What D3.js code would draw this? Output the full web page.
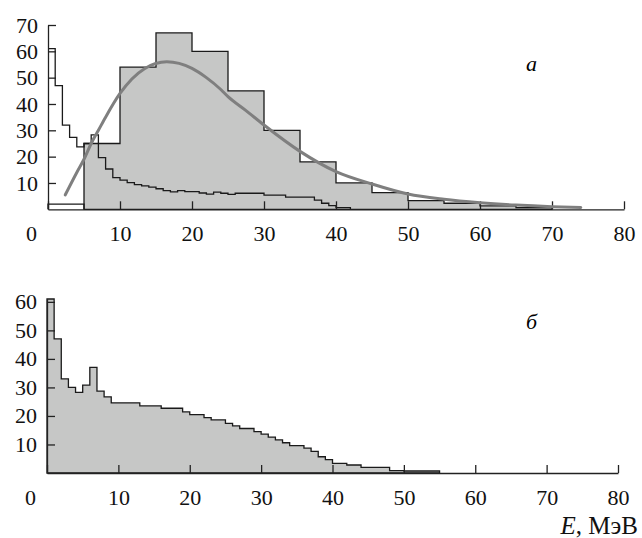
<!DOCTYPE html>
<html>
<head>
  <meta charset="utf-8">
  <script src="https://d3js.org/d3.v7.min.js"></script>
<style>
  body { margin: 0; background: #fff; }
  .axis path, .axis line { stroke: #222; stroke-width: 1.3; }
</style>
</head>
<body>
<script type="text/javascript">
  // top panel (a): 5 MeV bins, gray; first bin is left unfilled
  var topBinStart = [0, 5, 10, 15, 20, 25, 30, 35, 40, 45, 50, 55, 60, 65];
  var topBinCount = [2, 25, 54, 67, 60, 45, 30, 18, 10, 6.3, 3.3, 2.3, 1.3, 0.6];
  var topBinWidth = 5;

  // top panel (a): thin 1 MeV histogram
  var thinCount = [61, 47, 32, 27.3, 23.7, 25, 28.3, 19.6, 15.3, 12,
                   11.1, 10.1, 9.4, 8.9, 8.4, 7.8, 7.1, 6.6, 7.1, 6.7,
                   6.7, 6.2, 5.8, 6.5, 6.1, 5.7, 6.1, 6.1, 6.1, 6.1,
                   5.4, 5.4, 5.4, 4.6, 4.6, 4.6, 4.6, 3.5, 2.3, 1.4,
                   0.6, 0.6];

  // top panel (a): fitted curve
  var fitE = [2.4, 4, 5, 6, 7, 8, 10, 13.4, 16.5, 20, 22, 24, 25, 27.5, 30, 35, 40, 45, 50, 55, 60, 65, 70, 74];
  var fitN = [5.5, 14, 19, 25, 30, 35, 44, 53.4, 56, 53.5, 50, 45.5, 42.8, 37.5, 32, 22, 14.3, 9.6, 5.8, 3.8, 2.5, 1.6, 1, 0.7];

  // bottom panel (b): 1 MeV bins
  var botCount = [61, 47, 33, 30, 28.3, 30.8, 37, 28.7, 26.7, 24.6,
                  24.6, 24.6, 24.6, 23.5, 23.5, 23.5, 22.7, 22.7, 22.7, 21.4,
                  20.5, 20.5, 19.4, 18.6, 18.6, 17.4, 16.5, 15.6, 15.6, 14.5,
                  13.6, 12.6, 11.6, 10.6, 9.6, 9.6, 8.7, 7.6, 5.7, 4.7,
                  3.4, 3.4, 2.8, 2.8, 2.0, 2.0, 2.0, 2.0, 0.8, 0.8,
                  0.7, 0.7, 0.7, 0.7, 0.7];

  var xTicks = [0, 10, 20, 30, 40, 50, 60, 70, 80];
  var yTopTicks = [10, 20, 30, 40, 50, 60, 70];
  var yBotTicks = [10, 20, 30, 40, 50, 60];

  var serif = "'Liberation Serif'";

  var svg = d3.select("body").append("svg")
      .attr("width", 642)
      .attr("height", 538);

  var xTop = d3.scaleLinear().domain([0, 80]).range([48, 624]);
  var yTop = d3.scaleLinear().domain([0, 70]).range([209.3, 25]);
  var xBot = d3.scaleLinear().domain([0, 80]).range([47, 618]);
  var yBot = d3.scaleLinear().domain([0, 61]).range([473, 299]);

  // step outline for a list of [start, width, value]
  function stepPoints(bins) {
    var pts = [[bins[0][0], 0]];
    bins.forEach(function (b) {
      pts.push([b[0], b[2]]);
      pts.push([b[0] + b[1], b[2]]);
    });
    pts.push([bins[bins.length - 1][0] + bins[bins.length - 1][1], 0]);
    return pts;
  }

  function drawAxes(g, x, y, yTicks) {
    var xa = g.append("g").attr("class", "axis")
        .attr("transform", "translate(0," + y(0) + ")")
        .call(d3.axisBottom(x).tickValues(xTicks).tickSize(-8).tickSizeOuter(0).tickPadding(16));
    xa.selectAll("text").filter(function (d) { return d === 0; })
        .attr("x", -17);
    g.append("g").attr("class", "axis")
        .attr("transform", "translate(" + x(0) + ",0)")
        .call(d3.axisLeft(y).tickValues(yTicks).tickSize(-8).tickSizeOuter(0).tickPadding(10));
    g.selectAll(".axis text")
        .style("font-family", serif)
        .style("font-size", "22px")
        .attr("fill", "#111");
  }

  // ---------- top panel ----------
  var gTop = svg.append("g");
  var line = function (x, y) {
    return d3.line().x(function (d) { return x(d[0]); }).y(function (d) { return y(d[1]); });
  };

  var wideBins = topBinStart.map(function (s, i) { return [s, topBinWidth, topBinCount[i]]; });

  // unfilled first bin, gray rest
  gTop.append("path")
      .attr("d", line(xTop, yTop)(stepPoints(wideBins.slice(1))) + "Z")
      .attr("fill", "#c6c7c6")
      .attr("stroke", "#1a1a1a")
      .attr("stroke-width", 1.3);
  gTop.append("path")
      .attr("d", line(xTop, yTop)(stepPoints(wideBins.slice(0, 1))))
      .attr("fill", "none")
      .attr("stroke", "#1a1a1a")
      .attr("stroke-width", 1.3);

  var thinBins = thinCount.map(function (v, i) { return [i, 1, v]; });
  gTop.append("path")
      .attr("d", line(xTop, yTop)(stepPoints(thinBins).slice(1)))
      .attr("fill", "none")
      .attr("stroke", "#1a1a1a")
      .attr("stroke-width", 1.3);

  drawAxes(gTop, xTop, yTop, yTopTicks);

  gTop.append("path")
      .datum(fitE.map(function (e, i) { return [e, fitN[i]]; }))
      .attr("d", d3.line().curve(d3.curveMonotoneX)
          .x(function (d) { return xTop(d[0]); })
          .y(function (d) { return yTop(d[1]); }))
      .attr("fill", "none")
      .attr("stroke", "#7f7f7f")
      .attr("stroke-width", 3)
      .attr("stroke-linecap", "round");

  gTop.append("text")
      .attr("x", 526).attr("y", 71)
      .style("font-family", serif).style("font-size", "22px")
      .style("font-style", "italic")
      .text("а");

  // ---------- bottom panel ----------
  var gBot = svg.append("g");
  var botBins = botCount.map(function (v, i) { return [i, 1, v]; });
  gBot.append("path")
      .attr("d", line(xBot, yBot)(stepPoints(botBins)) + "Z")
      .attr("fill", "#c6c7c6")
      .attr("stroke", "#1a1a1a")
      .attr("stroke-width", 1.3);

  drawAxes(gBot, xBot, yBot, yBotTicks);

  gBot.append("text")
      .attr("x", 526).attr("y", 329)
      .style("font-family", serif).style("font-size", "22px")
      .style("font-style", "italic")
      .text("б");

  var lab = svg.append("text")
      .attr("x", 638).attr("y", 534)
      .style("font-family", serif).style("font-size", "25px")
      .attr("fill", "#111")
      .attr("text-anchor", "end");
  lab.append("tspan").style("font-style", "italic").text("E");
  lab.append("tspan").text(", МэВ");
</script>
</body>
</html>
